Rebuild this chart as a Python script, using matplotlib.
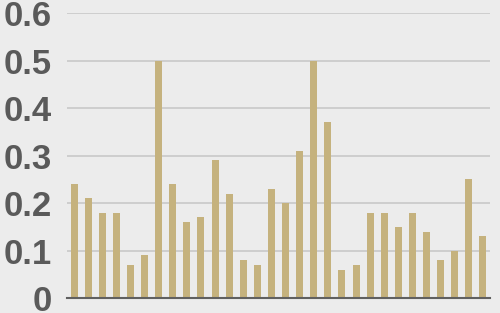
import matplotlib.pyplot as plt

# values, one per bar
values = [0.24, 0.21, 0.18, 0.18, 0.07, 0.09, 0.50, 0.24, 0.16, 0.17,
          0.29, 0.22, 0.08, 0.07, 0.23, 0.20, 0.31, 0.50, 0.37, 0.06,
          0.07, 0.18, 0.18, 0.15, 0.18, 0.14, 0.08, 0.10, 0.25, 0.13]
yticks = [0, 0.1, 0.2, 0.3, 0.4, 0.5, 0.6]
ytick_labels = ['0', '0.1', '0.2', '0.3', '0.4', '0.5', '0.6']

bg = '#ececec'
fig = plt.figure(figsize=(5, 3.13), dpi=100, facecolor=bg)
ax = fig.add_axes([0.134, 0.048, 0.846, 0.9095], facecolor=bg)

x = range(len(values))
ax.bar(x, values, width=0.5, color='#c5b27e', zorder=3)

ax.set_xlim(-0.5, len(values) - 0.5)
ax.set_ylim(0, 0.6)
ax.set_xticks([])
ax.set_yticks(yticks)
ax.set_yticklabels(ytick_labels, family='Liberation Sans', fontweight='bold',
                   fontsize=25, color='#5a5a5a')
ax.tick_params(axis='y', length=0, pad=11)

ax.grid(axis='y', color='#c9c9c9', linewidth=1.2, zorder=0)
for side in ['top', 'right', 'left']:
    ax.spines[side].set_visible(False)
ax.spines['bottom'].set_color('#606060')
ax.spines['bottom'].set_linewidth(1.5)
ax.spines['bottom'].set_zorder(4)

fig.savefig('out.png', dpi=100, facecolor=bg)
